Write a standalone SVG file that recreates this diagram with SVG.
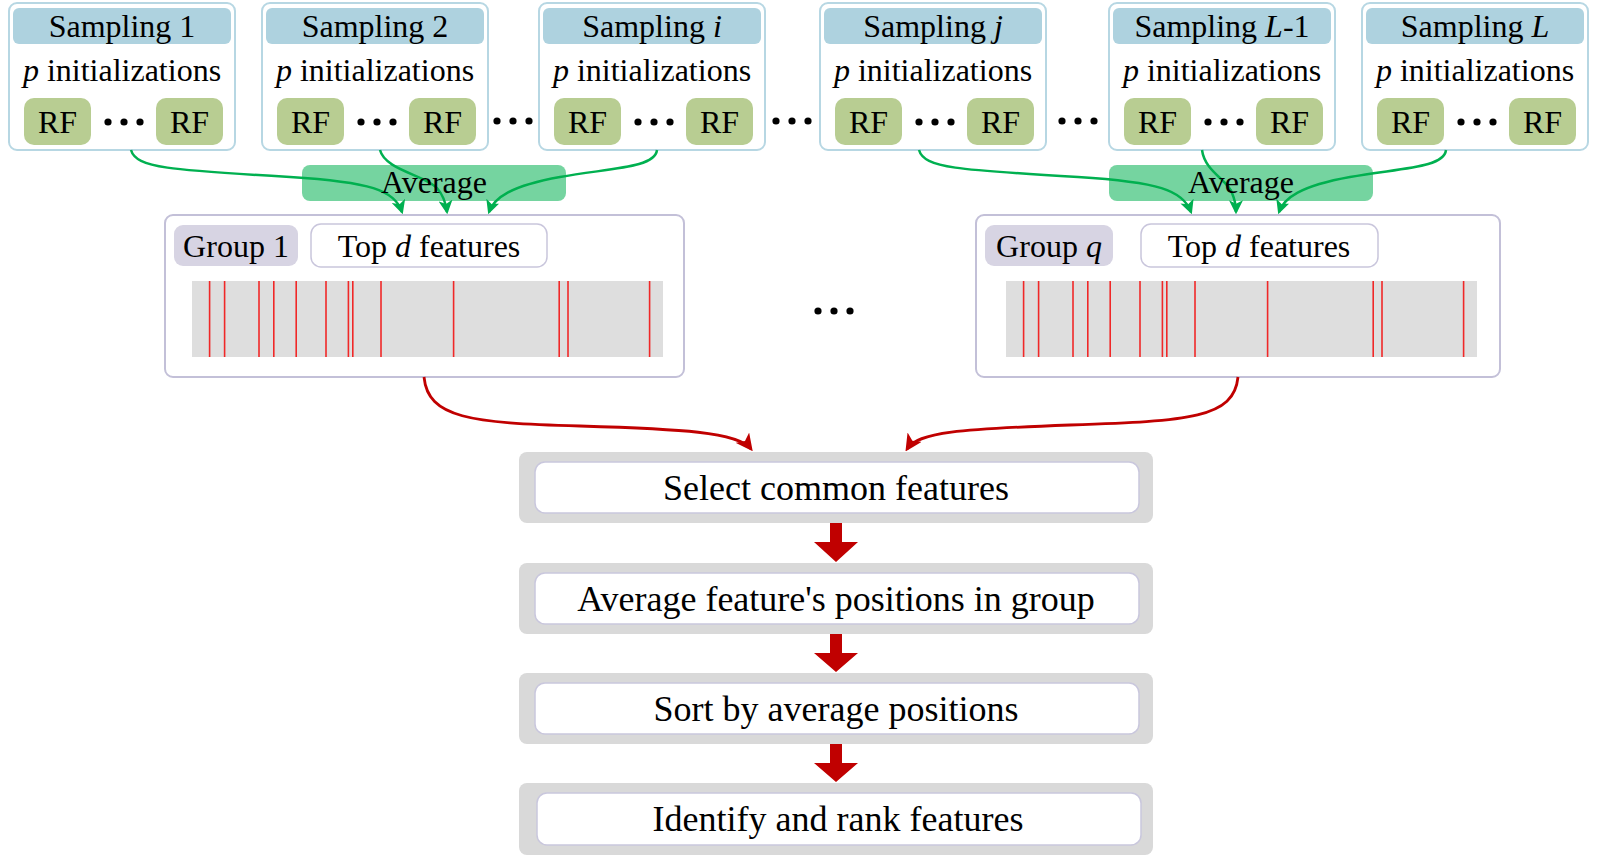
<svg xmlns="http://www.w3.org/2000/svg" width="1598" height="862" viewBox="0 0 1598 862">
<defs>
<style>
text{font-family:"Liberation Serif","Times New Roman",serif;fill:#000;text-anchor:middle}
.t32{font-size:32px}
.t36{font-size:36px}
.samp{fill:#fff;stroke:#B7D7E3;stroke-width:2}
.head{fill:#AED2DF}
.rf{fill:#B8CD92}
.dot{fill:#000}
.grp{fill:#fff;stroke:#C3C0D8;stroke-width:2}
.glab{fill:#D7D4E3}
.topd{fill:#fff;stroke:#C9C6DC;stroke-width:1.5}
.bar{fill:#DEDEDE}
.feat{stroke:#F02828;stroke-width:1.6}
.avg{fill:#00B050;fill-opacity:0.54}
.outer{fill:#D9D9D9}
.inner{fill:#fff;stroke:#C9C7DD;stroke-width:1.5}
.gline{fill:none;stroke:#00B050;stroke-width:2.5;marker-end:url(#ga)}
.rline{fill:none;stroke:#C00000;stroke-width:2.8;marker-end:url(#ra)}
.down{fill:#C00000}
</style>
<marker id="ga" viewBox="0 0 12 12" refX="10" refY="6" markerWidth="14" markerHeight="14" markerUnits="userSpaceOnUse" orient="auto">
<path d="M0,0 L12,6 L0,12 L3,6 z" fill="#00B050"/>
</marker>
<marker id="ra" viewBox="0 0 12 12" refX="10" refY="6" markerWidth="17" markerHeight="17" markerUnits="userSpaceOnUse" orient="auto">
<path d="M0,0 L12,6 L0,12 L3,6 z" fill="#C00000"/>
</marker>
<g id="rfpair">
<rect class="rf" x="15" y="98" width="67" height="47" rx="10"/>
<text class="t32" x="48.5" y="133">RF</text>
<circle class="dot" cx="99" cy="122" r="3.6"/>
<circle class="dot" cx="115" cy="122" r="3.6"/>
<circle class="dot" cx="131" cy="122" r="3.6"/>
<rect class="rf" x="147" y="98" width="67" height="47" rx="10"/>
<text class="t32" x="180.5" y="133">RF</text>
</g>
<g id="feats">
<rect class="bar" x="0" y="0" width="471" height="76"/>
<g class="feat">
<line x1="17.6" y1="0" x2="17.6" y2="76"/>
<line x1="32.6" y1="0" x2="32.6" y2="76"/>
<line x1="67" y1="0" x2="67" y2="76"/>
<line x1="81.8" y1="0" x2="81.8" y2="76"/>
<line x1="104.2" y1="0" x2="104.2" y2="76"/>
<line x1="134" y1="0" x2="134" y2="76"/>
<line x1="156.4" y1="0" x2="156.4" y2="76"/>
<line x1="160.8" y1="0" x2="160.8" y2="76"/>
<line x1="189" y1="0" x2="189" y2="76"/>
<line x1="261.6" y1="0" x2="261.6" y2="76"/>
<line x1="367.2" y1="0" x2="367.2" y2="76"/>
<line x1="376" y1="0" x2="376" y2="76"/>
<line x1="457.6" y1="0" x2="457.6" y2="76"/>
</g>
</g>
</defs>
<rect width="1598" height="862" fill="#fff"/>

<g id="sampling1">
<rect class="samp" x="9" y="3" width="226" height="147" rx="8"/>
<rect class="head" x="13" y="8" width="218" height="36" rx="6"/>
<text class="t32" x="122" y="37">Sampling 1</text>
<text class="t32" x="122" y="81"><tspan font-style="italic">p</tspan> initializations</text>
<use href="#rfpair" x="9" y="0"/>
</g>
<g id="sampling2">
<rect class="samp" x="262" y="3" width="226" height="147" rx="8"/>
<rect class="head" x="266" y="8" width="218" height="36" rx="6"/>
<text class="t32" x="375" y="37">Sampling 2</text>
<text class="t32" x="375" y="81"><tspan font-style="italic">p</tspan> initializations</text>
<use href="#rfpair" x="262" y="0"/>
</g>
<g id="samplingI">
<rect class="samp" x="539" y="3" width="226" height="147" rx="8"/>
<rect class="head" x="543" y="8" width="218" height="36" rx="6"/>
<text class="t32" x="652" y="37">Sampling <tspan font-style="italic">i</tspan></text>
<text class="t32" x="652" y="81"><tspan font-style="italic">p</tspan> initializations</text>
<use href="#rfpair" x="539" y="0"/>
</g>
<g id="samplingJ">
<rect class="samp" x="820" y="3" width="226" height="147" rx="8"/>
<rect class="head" x="824" y="8" width="218" height="36" rx="6"/>
<text class="t32" x="933" y="37">Sampling <tspan font-style="italic">j</tspan></text>
<text class="t32" x="933" y="81"><tspan font-style="italic">p</tspan> initializations</text>
<use href="#rfpair" x="820" y="0"/>
</g>
<g id="samplingL1">
<rect class="samp" x="1109" y="3" width="226" height="147" rx="8"/>
<rect class="head" x="1113" y="8" width="218" height="36" rx="6"/>
<text class="t32" x="1222" y="37">Sampling <tspan font-style="italic">L</tspan>-1</text>
<text class="t32" x="1222" y="81"><tspan font-style="italic">p</tspan> initializations</text>
<use href="#rfpair" x="1109" y="0"/>
</g>
<g id="samplingL">
<rect class="samp" x="1362" y="3" width="226" height="147" rx="8"/>
<rect class="head" x="1366" y="8" width="218" height="36" rx="6"/>
<text class="t32" x="1475" y="37">Sampling <tspan font-style="italic">L</tspan></text>
<text class="t32" x="1475" y="81"><tspan font-style="italic">p</tspan> initializations</text>
<use href="#rfpair" x="1362" y="0"/>
</g>

<g id="topdots">
<circle class="dot" cx="497" cy="121" r="3.6"/>
<circle class="dot" cx="513" cy="121" r="3.6"/>
<circle class="dot" cx="529" cy="121" r="3.6"/>
<circle class="dot" cx="776" cy="121" r="3.6"/>
<circle class="dot" cx="792" cy="121" r="3.6"/>
<circle class="dot" cx="808" cy="121" r="3.6"/>
<circle class="dot" cx="1062" cy="121" r="3.6"/>
<circle class="dot" cx="1078" cy="121" r="3.6"/>
<circle class="dot" cx="1094" cy="121" r="3.6"/>
</g>

<g id="group1">
<rect class="grp" x="165" y="215" width="519" height="162" rx="8"/>
<rect class="glab" x="174" y="225" width="124" height="41" rx="9"/>
<text class="t32" x="236" y="257">Group 1</text>
<rect class="topd" x="311" y="224" width="236" height="43" rx="10"/>
<text class="t32" x="429" y="257">Top <tspan font-style="italic">d</tspan> features</text>
<use href="#feats" x="192" y="281"/>
</g>
<g id="groupQ">
<rect class="grp" x="976" y="215" width="524" height="162" rx="8"/>
<rect class="glab" x="985" y="225" width="128" height="41" rx="9"/>
<text class="t32" x="1049" y="257">Group <tspan font-style="italic">q</tspan></text>
<rect class="topd" x="1141" y="224" width="237" height="43" rx="10"/>
<text class="t32" x="1259" y="257">Top <tspan font-style="italic">d</tspan> features</text>
<use href="#feats" x="1006" y="281"/>
</g>
<g id="middots">
<circle class="dot" cx="818" cy="311" r="3.6"/>
<circle class="dot" cx="834" cy="311" r="3.6"/>
<circle class="dot" cx="850" cy="311" r="3.6"/>
</g>

<g id="step1">
<rect class="outer" x="519" y="452" width="634" height="71" rx="8"/>
<rect class="inner" x="535" y="462" width="604" height="51" rx="10"/>
<text class="t36" x="836" y="500">Select common features</text>
</g>
<g id="step2">
<rect class="outer" x="519" y="563" width="634" height="71" rx="8"/>
<rect class="inner" x="535" y="573" width="604" height="51" rx="10"/>
<text class="t36" x="836" y="611">Average feature's positions in group</text>
</g>
<g id="step3">
<rect class="outer" x="519" y="673" width="634" height="71" rx="8"/>
<rect class="inner" x="535" y="683" width="604" height="51" rx="10"/>
<text class="t36" x="836" y="721">Sort by average positions</text>
</g>
<g id="step4">
<rect class="outer" x="519" y="783" width="634" height="72" rx="8"/>
<rect class="inner" x="537" y="793" width="604" height="52" rx="10"/>
<text class="t36" x="838" y="831">Identify and rank features</text>
</g>

<g id="connectors">
<path class="gline" d="M131,150 C136,168 170,170 290,177 C370,182 395,190 402,212"/>
<path class="gline" d="M380,150 C385,170 425,175 437,188 C444,196 446,204 447,212"/>
<path class="gline" d="M657,150 C655,168 610,168 560,177 C510,186 494,198 489,212"/>
<path class="gline" d="M919,150 C924,168 958,170 1078,177 C1158,182 1183,190 1191,212"/>
<path class="gline" d="M1202,150 C1205,172 1228,180 1232,193 C1235,200 1236,206 1236,212"/>
<path class="gline" d="M1446,150 C1444,168 1400,168 1350,177 C1300,186 1284,198 1279,212"/>
<path class="rline" d="M424,377 C428,418 470,423 580,426 C680,429 738,432 751,449"/>
<path class="rline" d="M1238,377 C1234,418 1190,421 1070,425 C960,429 918,432 907,449"/>
<path class="down" d="M830,523 H842 V542 H858 L836,562 L814,542 H830 Z"/>
<path class="down" d="M830,634 H842 V653 H858 L836,672 L814,653 H830 Z"/>
<path class="down" d="M830,744 H842 V763 H858 L836,782 L814,763 H830 Z"/>
</g>

<g id="average1">
<rect class="avg" x="302" y="165" width="264" height="36" rx="8"/>
<text class="t32" x="434" y="193">Average</text>
</g>
<g id="averageQ">
<rect class="avg" x="1109" y="165" width="264" height="36" rx="8"/>
<text class="t32" x="1241" y="193">Average</text>
</g>
</svg>
